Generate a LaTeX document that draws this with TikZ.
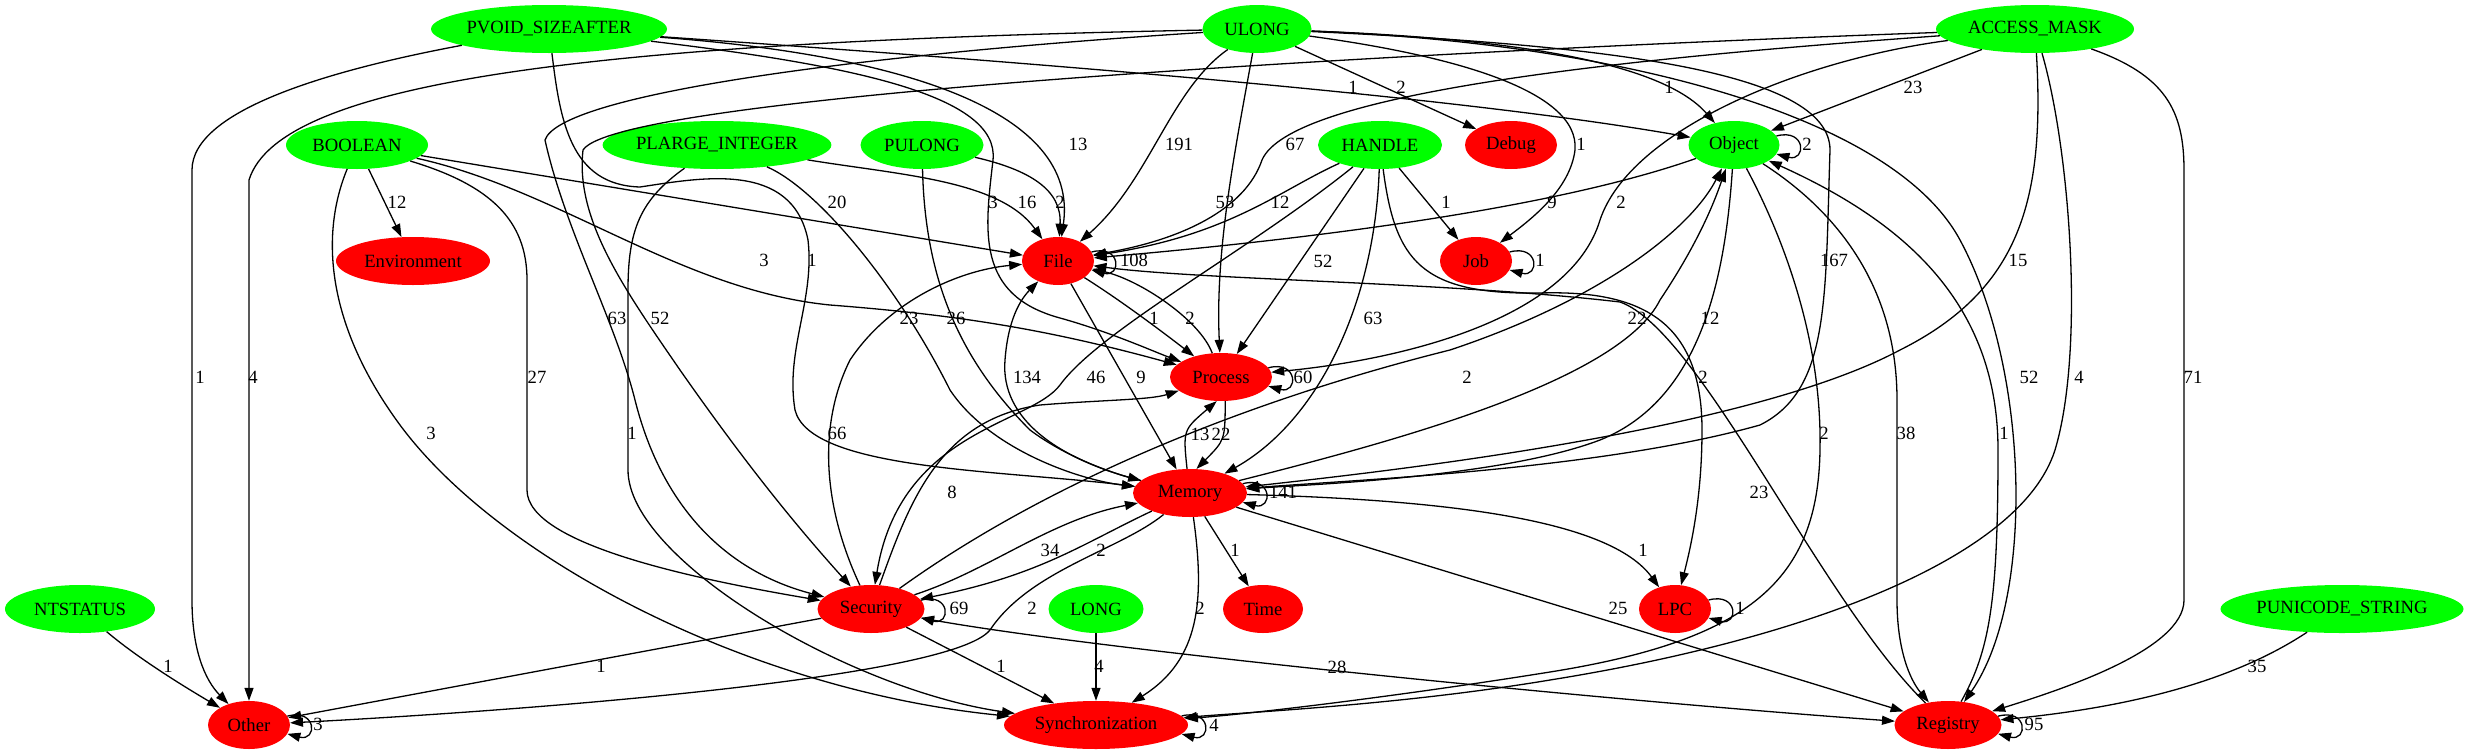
\documentclass[tikz,border=0pt]{standalone}
\usepackage{fontspec}
\setmainfont{Liberation Serif}
\usetikzlibrary{arrows.meta,shapes.geometric}
\definecolor{gv}{RGB}{0,255,0}
\definecolor{rv}{RGB}{255,0,0}
\begin{document}
\begin{tikzpicture}[x=1pt,y=-1pt,
  every node/.style={font=\fontsize{18.67}{22}\selectfont},
  gn/.style={ellipse,fill=gv,draw=none,minimum height=48pt,inner sep=0pt},
  rn/.style={ellipse,fill=rv,draw=none,minimum height=48pt,inner sep=0pt},
  >={Triangle[length=13pt,width=9pt]},
  e/.style={line width=1.3pt,->},
  lb/.style={inner sep=0pt}]
\useasboundingbox (0,0) rectangle (2469,755);
% nodes
\node[gn,minimum width=236pt] (pvoid) at (549,29) {PVOID\_SIZEAFTER};
\node[gn,minimum width=109pt] (ulong) at (1257,29) {ULONG};
\node[gn,minimum width=198pt] (access) at (2035,29) {ACCESS\_MASK};
\node[gn,minimum width=142pt] (boolean) at (357,145) {BOOLEAN};
\node[gn,minimum width=228pt] (plarge) at (717,145) {PLARGE\_INTEGER};
\node[gn,minimum width=123pt] (pulong) at (922,145) {PULONG};
\node[gn,minimum width=124pt] (handle) at (1380,145) {HANDLE};
\node[rn,minimum width=92pt] (debug) at (1511,145) {Debug};
\node[gn,minimum width=91pt] (object) at (1734,145) {Object};
\node[rn,minimum width=154pt] (env) at (413,261) {Environment};
\node[rn,minimum width=72pt] (file) at (1058,261) {File};
\node[rn,minimum width=72pt] (job) at (1476,261) {Job};
\node[rn,minimum width=102pt] (process) at (1221,377) {Process};
\node[rn,minimum width=114pt] (memory) at (1190,493) {Memory};
\node[gn,minimum width=150pt] (ntstatus) at (80,609) {NTSTATUS};
\node[rn,minimum width=107pt] (security) at (871,609) {Security};
\node[gn,minimum width=95pt] (long) at (1096,609) {LONG};
\node[rn,minimum width=80pt] (time) at (1263,609) {Time};
\node[rn,minimum width=72pt] (lpc) at (1675,609) {LPC};
\node[gn,minimum width=243pt] (punicode) at (2342,609) {PUNICODE\_STRING};
\node[rn,minimum width=82pt] (other) at (249,725) {Other};
\node[rn,minimum width=184pt] (sync) at (1096,725) {Synchronization};
\node[rn,minimum width=107pt] (registry) at (1948,725) {Registry};
% PVOID_SIZEAFTER
\draw[e] (pvoid) .. controls (330,70) and (192,110) .. (192,170) -- (192,600) .. controls (192,650) and (205,680) .. (other);
\draw[e] (pvoid) .. controls (560,120) and (570,185) .. (640,187) .. controls (700,178) and (792,160) .. (808,240) .. controls (815,300) and (785,350) .. (795,410) .. controls (810,470) and (1000,470) .. (memory);
\draw[e] (pvoid) .. controls (900,55) and (1080,110) .. (file);
\draw[e] (pvoid) .. controls (850,65) and (1000,95) .. (993,160) .. controls (985,230) and (975,295) .. (1060,318) .. controls (1110,332) and (1150,350) .. (process);
\draw[e] (pvoid) .. controls (1000,60) and (1450,95) .. (object);
% ULONG
\draw[e] (ulong) .. controls (600,42) and (280,80) .. (249,180) -- (other);
\draw[e] (ulong) .. controls (850,55) and (560,95) .. (545,140) .. controls (565,230) and (615,320) .. (635,400) .. controls (660,500) and (720,570) .. (security);
\draw[e] (ulong) .. controls (1170,90) and (1150,180) .. (file);
\draw[e] (ulong) .. controls (1235,150) and (1215,250) .. (process);
\draw[e] (ulong) -- (debug);
\draw[e] (ulong) .. controls (1450,55) and (1580,90) .. (1575,150) .. controls (1570,190) and (1530,220) .. (job);
\draw[e] (ulong) .. controls (1500,38) and (1660,60) .. (object);
\draw[e] (ulong) .. controls (1600,45) and (1830,70) .. (1830,150) .. controls (1825,300) and (1830,390) .. (1760,425) .. controls (1600,470) and (1350,480) .. (memory);
\draw[e] (ulong) .. controls (1600,42) and (1890,110) .. (1960,240) .. controls (2030,370) and (2035,600) .. (registry);
% ACCESS_MASK
\draw[e] (access) .. controls (1500,48) and (620,92) .. (583,150) .. controls (575,220) and (625,290) .. (680,370) .. controls (750,470) and (800,530) .. (security);
\draw[e] (access) -- (object);
\draw[e] (access) .. controls (1600,60) and (1290,95) .. (1262,160) .. controls (1245,210) and (1180,240) .. (file);
\draw[e] (access) .. controls (1800,60) and (1630,130) .. (1600,220) .. controls (1570,320) and (1400,360) .. (process);
\draw[e] (access) .. controls (2045,200) and (2020,290) .. (1900,350) .. controls (1750,430) and (1400,470) .. (memory);
\draw[e] (access) .. controls (2070,150) and (2085,350) .. (2055,450) .. controls (2020,560) and (1800,640) .. (1550,680) .. controls (1400,705) and (1250,712) .. (sync);
\draw[e] (access) .. controls (2165,75) and (2184,110) .. (2184,170) -- (2184,600) .. controls (2184,650) and (2060,690) .. (registry);
% BOOLEAN
\draw[e] (boolean) -- (env);
\draw[e] (boolean) -- (file);
\draw[e] (boolean) .. controls (560,190) and (680,290) .. (830,305) .. controls (960,315) and (1050,330) .. (process);
\draw[e] (boolean) .. controls (490,185) and (527,220) .. (527,280) -- (527,490) .. controls (527,545) and (700,580) .. (security);
\draw[e] (boolean) .. controls (318,240) and (330,330) .. (400,425) .. controls (500,560) and (750,690) .. (sync);
% PLARGE_INTEGER
\draw[e] (plarge) .. controls (640,200) and (628,230) .. (628,290) -- (628,470) .. controls (628,560) and (850,690) .. (sync);
\draw[e] (plarge) .. controls (900,175) and (1000,180) .. (file);
\draw[e] (plarge) .. controls (820,190) and (900,290) .. (950,390) .. controls (990,450) and (1080,480) .. (memory);
% PULONG
\draw[e] (pulong) .. controls (1030,170) and (1062,190) .. (file);
\draw[e] (pulong) .. controls (925,280) and (960,360) .. (1030,430) .. controls (1070,460) and (1120,475) .. (memory);
% HANDLE
\draw[e] (handle) .. controls (1280,190) and (1230,235) .. (file);
\draw[e] (handle) -- (process);
\draw[e] (handle) .. controls (1375,300) and (1320,420) .. (memory);
\draw[e] (handle) -- (job);
\draw[e] (handle) .. controls (1250,250) and (1100,330) .. (1060,385) .. controls (1030,425) and (900,430) .. (security);
\draw[e] (handle) .. controls (1395,260) and (1420,295) .. (1540,293) .. controls (1640,290) and (1702,320) .. (1702,430) .. controls (1702,500) and (1690,550) .. (lpc);
% Object
\draw[e] (object) .. controls (1550,210) and (1300,240) .. (file);
\draw[e] (object) .. controls (1725,280) and (1700,400) .. (1600,440) .. controls (1500,478) and (1300,485) .. (memory);
\draw[e] (object) .. controls (1790,250) and (1822,350) .. (1820,450) .. controls (1818,580) and (1750,640) .. (1550,672) .. controls (1400,696) and (1250,714) .. (sync);
\draw[e] (object) .. controls (1850,220) and (1897,300) .. (1897,400) -- (1897,600) .. controls (1897,650) and (1910,680) .. (registry);
% Memory
\draw[e] (memory) .. controls (1400,440) and (1620,380) .. (1660,300) .. controls (1700,240) and (1715,200) .. (object);
\draw[e] (memory) .. controls (1450,500) and (1610,520) .. (lpc);
\draw[e] (memory) -- (registry);
\draw[e] (memory) -- (time);
\draw[e] (memory) .. controls (1205,600) and (1200,660) .. (sync);
\draw[e] (memory) .. controls (1120,550) and (1030,570) .. (990,630) .. controls (950,680) and (500,712) .. (other);
\draw[e] (memory) .. controls (1080,545) and (1040,575) .. (security);
\draw[e] (memory) .. controls (1060,460) and (1000,420) .. (1005,360) .. controls (1008,320) and (1020,300) .. (file);
\draw[e] (memory.97) .. controls (1183,430) .. (process.-100);
\draw[e] (process.-80) .. controls (1225,440) .. (memory.75);
% Security
\draw[e] (security) -- (other);
\draw[e] (security) -- (sync);
\draw[e] (security) .. controls (990,570) and (1050,520) .. (memory);
\draw[e] (security) .. controls (910,500) and (940,420) .. (1040,405) .. controls (1100,400) and (1150,400) .. (process);
\draw[e] (security) .. controls (820,500) and (820,420) .. (850,360) .. controls (890,300) and (960,270) .. (file);
\draw[e] (security) .. controls (1050,480) and (1250,400) .. (1450,350) .. controls (1600,300) and (1690,230) .. (object);
\draw[line width=1.3pt,<->] (security) .. controls (1100,650) and (1600,700) .. (registry);
% File / Process
\draw[e] (file) -- (memory);
\draw[e] (file) .. controls (1120,300) and (1160,330) .. (process);
\draw[e] (process) .. controls (1200,320) and (1140,280) .. (file);
% Registry
\draw[e] (registry) .. controls (1990,650) and (1998,600) .. (1998,450) .. controls (1998,300) and (1900,220) .. (object);
\draw[e] (registry) .. controls (1820,600) and (1700,330) .. (1620,302) .. controls (1450,282) and (1200,280) .. (file);
% others
\draw[e] (punicode) .. controls (2220,690) and (2100,710) .. (registry);
\draw[e] (ntstatus) .. controls (140,660) and (190,690) .. (other);
\draw[e] (long) -- (sync);
% self loops
\draw[e] (file.15) .. controls +(30,-8) and +(30,8) .. (file.-15);
\draw[e] (job.15) .. controls +(30,-8) and +(30,8) .. (job.-15);
\draw[e] (lpc.15) .. controls +(30,-8) and +(30,8) .. (lpc.-15);
\draw[e] (other.13) .. controls +(30,-8) and +(30,8) .. (other.-13);
\draw[e] (object.12) .. controls +(30,-8) and +(30,8) .. (object.-12);
\draw[e] (process.11) .. controls +(30,-8) and +(30,8) .. (process.-11);
\draw[e] (memory.10) .. controls +(30,-8) and +(30,8) .. (memory.-10);
\draw[e] (security.10) .. controls +(30,-8) and +(30,8) .. (security.-10);
\draw[e] (registry.10) .. controls +(30,-8) and +(30,8) .. (registry.-10);
\draw[e] (sync.6) .. controls +(30,-8) and +(30,8) .. (sync.-6);
% labels
\node[lb] (t1) at (200,377) {1};
\node[lb] (t2) at (253,377) {4};
\node[lb] (t3) at (537,377) {27};
\node[lb] (t4) at (397,202) {12};
\node[lb] (t5) at (764,260) {3};
\node[lb] (t6) at (812,260) {1};
\node[lb] (t7) at (837,202) {20};
\node[lb] (t8) at (617,318) {63};
\node[lb] (t9) at (660,318) {52};
\node[lb] (t10) at (431,433) {3};
\node[lb] (t11) at (632,433) {1};
\node[lb] (t12) at (1027,202) {16};
\node[lb] (t13) at (1060,202) {2};
\node[lb] (t14) at (1078,144) {13};
\node[lb] (t15) at (993,202) {3};
\node[lb] (t16) at (1179,144) {191};
\node[lb] (t17) at (1225,202) {53};
\node[lb] (t18) at (1295,144) {67};
\node[lb] (t19) at (1280,202) {12};
\node[lb] (t20) at (1323,261) {52};
\node[lb] (t21) at (1373,318) {63};
\node[lb] (t22) at (1446,202) {1};
\node[lb] (t23) at (1096,377) {46};
\node[lb] (t24) at (1703,377) {2};
\node[lb] (t25) at (1353,87) {1};
\node[lb] (t26) at (1401,87) {2};
\node[lb] (t27) at (1581,144) {1};
\node[lb] (t28) at (1669,87) {1};
\node[lb] (t29) at (1913,87) {23};
\node[lb] (t30) at (1552,202) {9};
\node[lb] (t31) at (1621,202) {2};
\node[lb] (t32) at (1834,260) {167};
\node[lb] (t33) at (2018,260) {15};
\node[lb] (t34) at (2029,377) {52};
\node[lb] (t35) at (2079,377) {4};
\node[lb] (t36) at (2193,377) {71};
\node[lb] (t37) at (1807,144) {2};
\node[lb] (t38) at (1710,318) {12};
\node[lb] (t39) at (1637,318) {22};
\node[lb] (t40) at (1467,377) {2};
\node[lb] (t41) at (1824,433) {2};
\node[lb] (t42) at (1906,433) {38};
\node[lb] (t43) at (2004,433) {1};
\node[lb] (t44) at (1759,492) {23};
\node[lb] (t45) at (2257,666) {35};
\node[lb] (t46) at (2034,724) {95};
\node[lb] (t47) at (1740,608) {1};
\node[lb] (t48) at (1643,550) {1};
\node[lb] (t49) at (1618,608) {25};
\node[lb] (t50) at (1337,667) {28};
\node[lb] (t51) at (1235,550) {1};
\node[lb] (t52) at (1200,608) {2};
\node[lb] (t53) at (1283,492) {141};
\node[lb] (t54) at (1099,666) {4};
\node[lb] (t55) at (1001,666) {1};
\node[lb] (t56) at (601,666) {1};
\node[lb] (t57) at (1032,608) {2};
\node[lb] (t58) at (959,608) {69};
\node[lb] (t59) at (1214,725) {4};
\node[lb] (t60) at (1050,550) {34};
\node[lb] (t61) at (1101,550) {2};
\node[lb] (t62) at (952,492) {8};
\node[lb] (t63) at (837,433) {66};
\node[lb] (t64) at (1027,377) {134};
\node[lb] (t65) at (1141,377) {9};
\node[lb] (t66) at (1154,318) {1};
\node[lb] (t67) at (1190,318) {2};
\node[lb] (t68) at (1200,434) {13};
\node[lb] (t69) at (1221,434) {22};
\node[lb] (t70) at (909,318) {23};
\node[lb] (t71) at (956,318) {26};
\node[lb] (t72) at (1303,377) {60};
\node[lb] (t73) at (1134,260) {108};
\node[lb] (t74) at (1540,260) {1};
\node[lb] (t75) at (168,666) {1};
\node[lb] (t76) at (318,724) {3};
\end{tikzpicture}
\end{document}
